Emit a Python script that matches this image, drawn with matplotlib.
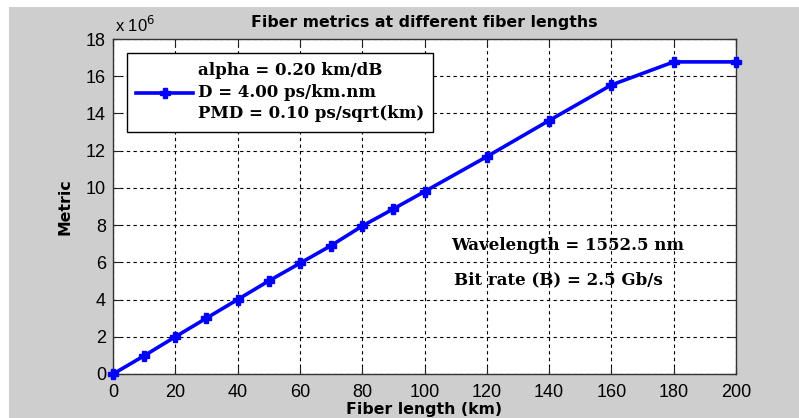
import numpy as np
import matplotlib
matplotlib.use("Agg")
import matplotlib.pyplot as plt
from matplotlib.patches import Rectangle

# Fiber length (km) and metric (x 10^6)
fiber_length = [0, 10, 20, 30, 40, 50, 60, 70, 80, 90, 100, 120, 140, 160, 180, 200]
metric = [0.0, 0.98, 2.0, 3.0, 4.0, 5.0, 5.95, 6.9, 7.95, 8.87, 9.8,
          11.68, 13.62, 15.53, 16.77, 16.77]

legend_label = "alpha = 0.20 km/dB\nD = 4.00 ps/km.nm\nPMD = 0.10 ps/sqrt(km)"
notes = ["Wavelength = 1552.5 nm", "Bit rate (B) = 2.5 Gb/s"]
xticks = list(range(0, 201, 20))
yticks = list(range(0, 19, 2))

plt.rcParams['font.family'] = ['Liberation Sans', 'DejaVu Sans']
bold_font = {'family': 'DejaVu Sans', 'weight': 'bold', 'size': 11.3}
serif_font = {'family': 'DejaVu Serif', 'weight': 'bold', 'size': 12}

fig = plt.figure(figsize=(7.99, 4.18), dpi=100, facecolor='white')
# grey MATLAB figure background (small white margin top/left)
fig.patches.append(Rectangle((9 / 799, 0), 1, 1 - 7 / 418, transform=fig.transFigure,
                             facecolor='#cecece', edgecolor='none', zorder=-10))

ax = fig.add_axes([113 / 799, 1 - 374 / 418, 623 / 799, 335 / 418])
ax.plot(fiber_length, metric, color='#0000ff', linewidth=2.6, marker='P',
        markersize=6.5, label=legend_label, clip_on=False, zorder=3)

ax.set_xlim(0, 200)
ax.set_ylim(0, 18)
ax.set_xticks(xticks)
ax.set_yticks(yticks)
ax.tick_params(direction='in', top=True, right=True, length=5, labelsize=13,
               colors='#222222', labelcolor='black')
ax.tick_params(axis='x', pad=7)
ax.tick_params(axis='y', pad=5)
ax.grid(True, color='black', linestyle=(0, (3, 3)), linewidth=0.8)
for s in ax.spines.values():
    s.set_color('#333333')
    s.set_linewidth(1)

ax.set_title("Fiber metrics at different fiber lengths", fontdict=bold_font, pad=9)
ax.set_xlabel("Fiber length (km)", fontdict=bold_font, labelpad=1)
ax.set_ylabel("Metric", fontdict=bold_font, labelpad=10)
ax.text(0.003, 1.012, r'x 10$^6$', transform=ax.transAxes, fontsize=12,
        ha='left', va='bottom')

leg = ax.legend(loc='upper left', bbox_to_anchor=(0.0225, 0.958), fancybox=False,
                edgecolor='black', framealpha=1, handlelength=3.4, borderpad=0.55,
                handletextpad=0.3, borderaxespad=0, prop=serif_font)
leg.get_frame().set_linewidth(1)
leg.get_texts()[0].set_linespacing(1.35)

ax.text(108.5, 6.93, notes[0], fontdict=serif_font, ha='left', va='center')
ax.text(109.5, 5.05, notes[1], fontdict=serif_font, ha='left', va='center')

fig.savefig("out.png", dpi=100, facecolor=fig.get_facecolor())
